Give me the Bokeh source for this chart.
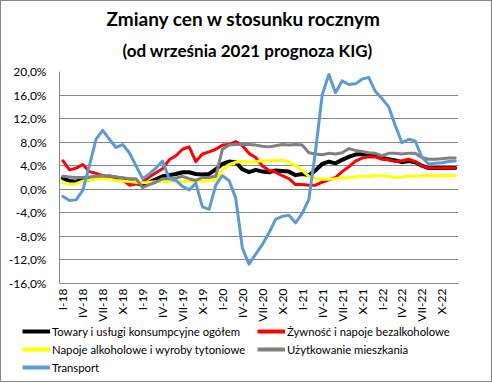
import math
from bokeh.plotting import figure
from bokeh.layouts import column
from bokeh.models import FixedTicker, Legend, LegendItem, Title, Range1d
from bokeh.embed import file_html
from bokeh.resources import INLINE

# ---- data (y/y change, %), monthly I-2018 .. XII-2022 ----
years = ["18", "19", "20", "21", "22"]
roman = ["I", "II", "III", "IV", "V", "VI", "VII", "VIII", "IX", "X", "XI", "XII"]
months = [f"{r}-{y}" for y in years for r in roman]
shown_months = ["I", "IV", "VII", "X"]

towary = [1.9, 1.4, 1.3, 1.6, 1.7, 2.0, 2.0, 2.0, 1.9, 1.8, 1.3, 1.1,
          0.7, 1.2, 1.7, 2.2, 2.4, 2.6, 2.9, 2.9, 2.6, 2.5, 2.6, 3.4,
          4.3, 4.7, 4.6, 3.4, 2.9, 3.3, 3.0, 2.9, 3.2, 3.1, 3.0, 2.4,
          2.6, 2.4, 3.2, 4.3, 4.7, 4.4, 5.0, 5.5, 5.9, 6.0, 5.9, 5.7,
          5.3, 5.1, 4.9, 4.6, 4.8, 4.6, 4.0, 3.6, 3.6, 3.6, 3.6, 3.6]
zywnosc = [4.85, 3.3, 3.6, 4.2, 3.0, 2.7, 2.3, 2.2, 2.1, 1.6, 0.7, 0.9,
           1.2, 2.1, 2.8, 3.5, 5.0, 5.7, 6.8, 7.2, 4.7, 6.0, 6.35, 6.8,
           7.5, 7.6, 8.1, 7.4, 6.1, 5.4, 4.0, 3.2, 2.9, 2.3, 1.8, 0.8,
           0.8, 0.7, 0.7, 1.2, 1.6, 2.0, 3.0, 3.8, 4.8, 5.3, 5.5, 5.5,
           5.1, 5.0, 4.7, 4.85, 5.1, 4.7, 4.0, 3.6, 3.6, 3.6, 3.6, 3.6]
napoje = [1.1, 0.9, 0.95, 1.4, 1.6, 1.8, 1.8, 1.7, 1.5, 1.4, 1.3, 1.2,
          1.1, 1.2, 1.3, 1.3, 1.3, 1.4, 1.3, 1.4, 1.35, 1.4, 1.5, 1.6,
          3.2, 4.2, 4.6, 4.7, 4.6, 4.7, 4.85, 4.85, 4.85, 4.95, 4.6, 4.0,
          3.2, 2.2, 1.8, 1.7, 1.7, 1.8, 1.9, 2.0, 2.1, 2.2, 2.2, 2.3,
          2.3, 2.2, 2.0, 2.1, 2.2, 2.2, 2.3, 2.3, 2.3, 2.3, 2.3, 2.3]
mieszkanie = [2.2, 2.1, 2.0, 2.0, 2.1, 2.2, 2.3, 2.3, 2.1, 1.95, 1.8, 1.8,
              0.3, 0.8, 1.2, 1.8, 1.8, 1.9, 2.2, 1.8, 1.5, 2.0, 2.0, 2.2,
              6.8, 7.5, 7.6, 7.6, 7.6, 7.5, 7.3, 7.2, 7.4, 7.6, 7.5, 7.6,
              7.5, 6.2, 6.0, 5.85, 6.1, 6.0, 6.2, 6.9, 6.6, 6.4, 6.2, 6.1,
              5.7, 6.1, 6.1, 6.0, 6.1, 6.1, 5.4, 5.1, 5.1, 5.2, 5.3, 5.3]
transport = [-1.2, -1.9, -1.8, -0.2, 4.0, 8.5, 10.0, 8.5, 7.1, 7.6, 6.2, 4.0,
             1.8, 2.6, 3.6, 4.8, 1.8, 1.5, 0.5, -0.1, 1.0, -3.0, -3.4, 0.7,
             2.3, 1.5, -1.5, -10.0, -12.7, -11.0, -9.4, -7.4, -5.1, -4.6, -4.4, -5.7,
             -4.1, -1.7, 6.5, 16.0, 19.5, 16.4, 18.4, 17.8, 17.9, 18.7, 19.0, 16.6,
             15.4, 14.0, 10.8, 7.9, 8.5, 8.2, 5.4, 4.3, 4.4, 4.5, 4.7, 4.8]

y_ticks = [-16, -12, -8, -4, 0, 4, 8, 12, 16, 20]

FONT = "Lato"
GRID = "#868686"

x = list(range(len(months)))
x_ticks = [i for i, m in enumerate(months) if m.split("-")[0] in shown_months]

p = figure(width=490, height=323, output_backend="svg", toolbar_location=None,
           x_range=Range1d(-0.5, len(months) - 0.5), y_range=Range1d(-16, 20),
           min_border_left=58, min_border_right=33, min_border_top=70,
           min_border_bottom=38)
p.frame_align = False
p.background_fill_color = "white"
p.border_fill_color = "white"
p.outline_line_color = None

t2 = Title(text="(od września 2021 prognoza KIG)", align="left", offset=63,
           text_font=FONT, text_font_size="17px", text_font_style="bold",
           text_color="black", standoff=21)
t1 = Title(text="Zmiany cen w stosunku rocznym", align="left", offset=47,
           text_font=FONT, text_font_size="19px", text_font_style="bold",
           text_color="black", standoff=-5)
p.add_layout(t2, "above")
p.add_layout(t1, "above")

# axes
p.yaxis.ticker = FixedTicker(ticks=y_ticks)
p.yaxis.major_label_overrides = {t: f"{t},0%" for t in y_ticks}
p.yaxis.axis_line_color = GRID
p.yaxis.major_tick_line_color = None
p.yaxis.minor_tick_line_color = None
p.yaxis.major_tick_out = 0
p.yaxis.major_label_standoff = 13
p.yaxis.major_label_text_font = FONT
p.yaxis.major_label_text_font_size = "12px"
p.yaxis.major_label_text_color = "black"

p.xaxis.ticker = FixedTicker(ticks=x_ticks)
p.xaxis.major_label_overrides = {i: months[i] for i in x_ticks}
p.xaxis.major_label_orientation = math.pi / 2
p.xaxis.axis_line_color = GRID
p.xaxis.major_tick_line_color = None
p.xaxis.minor_tick_line_color = None
p.xaxis.major_tick_out = 0
p.xaxis.major_label_standoff = 5
p.xaxis.major_label_text_font = FONT
p.xaxis.major_label_text_font_size = "12px"
p.xaxis.major_label_text_color = "black"

p.xgrid.visible = False
p.ygrid.grid_line_color = GRID
p.ygrid.grid_line_width = 1

series = [
    ("Towary i usługi konsumpcyjne ogółem", towary, "#000000", 4),
    ("Żywność i napoje bezalkoholowe", zywnosc, "#FF0000", 3),
    ("Napoje alkoholowe i wyroby tytoniowe", napoje, "#FFFF00", 3),
    ("Użytkowanie mieszkania", mieszkanie, "#808080", 3),
    ("Transport", transport, "#5B9BD5", 3),
]

# legend strip below the chart; its own lines lie outside its (hidden) y-range
p2 = figure(width=490, height=57, output_backend="svg", toolbar_location=None,
            x_range=Range1d(-0.5, len(months) - 0.5), y_range=Range1d(100, 101),
            x_axis_type=None, y_axis_type=None, min_border=0)
p2.frame_align = False
p2.outline_line_color = None
p2.background_fill_color = "white"
p2.border_fill_color = "white"
p2.grid.visible = False

items = []
for name, vals, col, w in series:
    p.line(x, vals, line_color=col, line_width=w, line_join="round", line_cap="round")
    r2 = p2.line(x, vals, line_color=col, line_width=4)
    items.append(LegendItem(label=name, renderers=[r2]))

def make_legend(its, loc):
    return Legend(items=its, location=loc, orientation="vertical",
                  label_text_font=FONT, label_text_font_size="11.3px",
                  label_text_color="black", glyph_width=28, glyph_height=14,
                  label_height=14, label_standoff=2, spacing=4, padding=0,
                  margin=0, border_line_color=None, background_fill_alpha=0)

p2.add_layout(make_legend([items[0], items[2], items[4]], (21, 7)))
p2.add_layout(make_legend([items[1], items[3]], (256, 25)))

layout = column(p, p2, spacing=0,
                styles={"border": "1px solid #868686"})

open("out.html", "w").write(file_html(layout, INLINE))
